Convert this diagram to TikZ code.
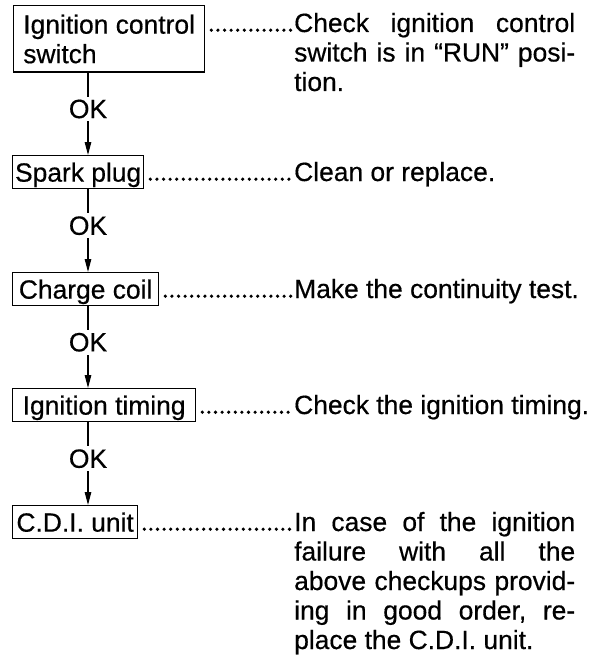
\documentclass[tikz,border=0pt]{standalone}
\usepackage{fontspec}
\setmainfont{Liberation Sans}[FakeBold=0.5]
\usetikzlibrary{arrows.meta,calc}
\begin{document}
\begin{tikzpicture}[x=1pt,y=1pt,
  every node/.style={font=\fontsize{26.4pt}{29.5pt}\selectfont},
  box/.style={draw, line width=1.3pt, anchor=north west, inner xsep=0pt, inner ysep=7pt,
              text height=19pt, text depth=0pt},
  arr/.style={line width=1.2pt, -{Triangle[length=13pt,width=6.5pt]}},
  ok/.style={fill=white, inner xsep=0pt, inner ysep=3pt, pos=0.44},
  leader/.style={line width=3.6pt, line cap=round, dash pattern=on 0pt off 6.6pt},
  desc/.style={anchor=base west, inner sep=0pt, align=left}]
\useasboundingbox (0,0) rectangle (589,-658);
% boxes
\node[box, minimum width=191pt, inner ysep=9pt, text height=48.5pt, align=left] (b1) at (13,-5) {Ignition control\\switch};
\node[box, minimum width=131pt] (b2) at (12,-155) {Spark plug};
\node[box, minimum width=146pt] (b3) at (12,-272) {Charge coil};
\node[box, minimum width=183pt] (b4) at (12,-388) {Ignition timing};
\node[box, minimum width=125pt] (b5) at (12,-505) {C.D.I. unit};
% arrows
\draw[arr] ($(b1.south west)+(75,0)$) -- node[ok]{OK} ($(b2.north west)+(76,0)$);
\draw[arr] ($(b2.south west)+(76,0)$) -- node[ok]{OK} ($(b3.north west)+(76,0)$);
\draw[arr] ($(b3.south west)+(76,0)$) -- node[ok]{OK} ($(b4.north west)+(76,0)$);
\draw[arr] ($(b4.south west)+(76,0)$) -- node[ok]{OK} ($(b5.north west)+(76,0)$);
% descriptions (first-line baselines r1..r5; multi-line nodes anchored at last line)
\coordinate (r1) at (294,-32);
\coordinate (r2) at (294,-181);
\coordinate (r3) at (294,-298);
\coordinate (r4) at (294,-414);
\coordinate (r5) at (294,-531);
\node[desc] (t1) at ($(r1)+(0,-59)$) {\hbox to 281pt{Check\hfill ignition\hfill control}\\
  \hbox to 281pt{switch\hfill is\hfill in\hfill “RUN”\hfill posi-}\\tion.};
\node[desc] (t2) at (r2) {Clean or replace.};
\node[desc] (t3) at (r3) {Make the continuity test.};
\node[desc] (t4) at (r4) {Check the ignition timing.};
\node[desc] (t5) at ($(r5)+(0,-118)$) {\hbox to 281pt{In\hfill case\hfill of\hfill the\hfill ignition}\\
  \hbox to 281pt{failure\hfill with\hfill all\hfill the}\\
  \hbox to 281pt{above\hfill checkups\hfill provid-}\\
  \hbox to 281pt{ing\hfill in\hfill good\hfill order,\hfill re-}\\
  place the C.D.I. unit.};
% leader dots
\draw[leader] ($(b1.east |- r1)+(6,1.8)$) -- ($(r1)+(-2,1.8)$);
\draw[leader] ($(b2.east |- r2)+(6,1.8)$) -- ($(r2)+(-2,1.8)$);
\draw[leader] ($(b3.east |- r3)+(6,1.8)$) -- ($(r3)+(-2,1.8)$);
\draw[leader] ($(b4.east |- r4)+(6,1.8)$) -- ($(r4)+(-2,1.8)$);
\draw[leader] ($(b5.east |- r5)+(6,1.8)$) -- ($(r5)+(-2,1.8)$);
\end{tikzpicture}
\end{document}
